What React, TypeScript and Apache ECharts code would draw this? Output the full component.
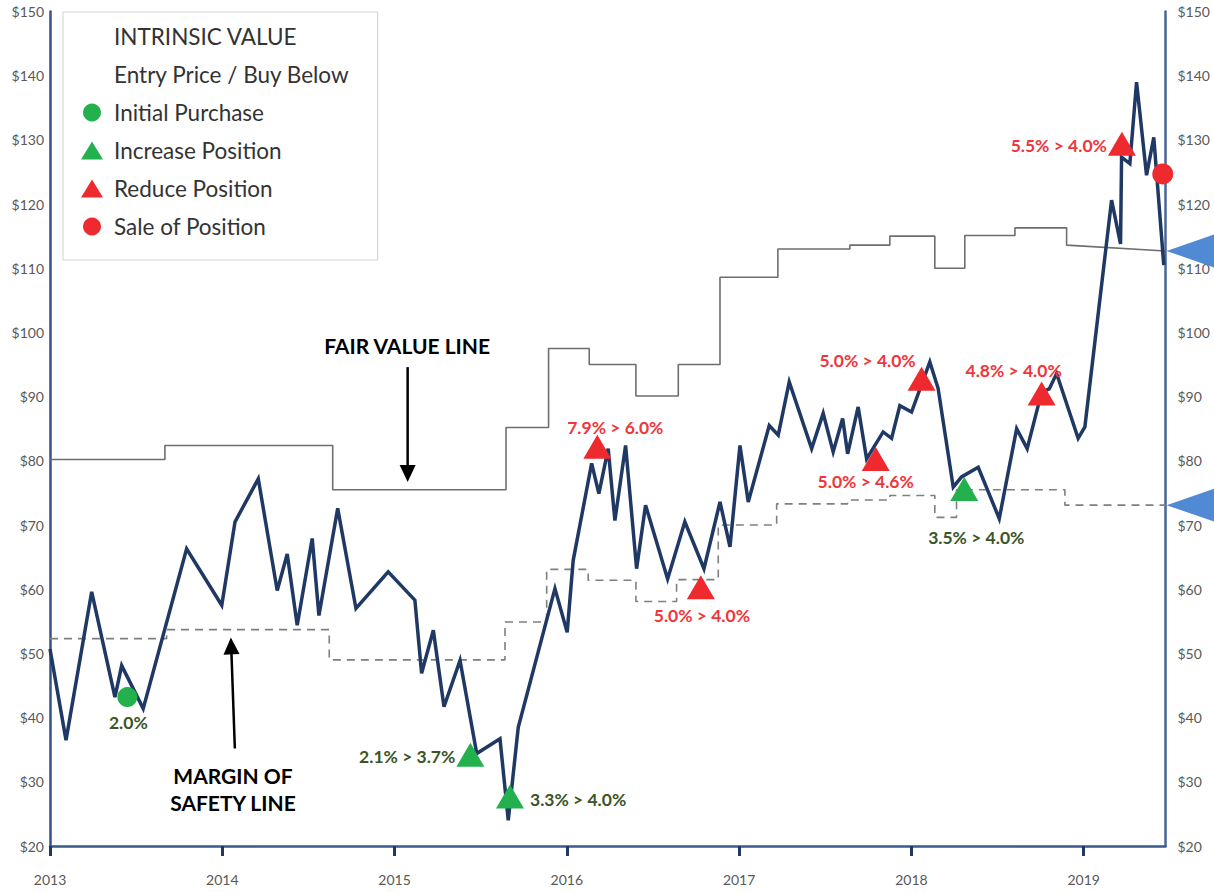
import React, { useEffect, useRef } from 'react';
import * as echarts from 'echarts';

// ---------- axes ----------
const yearTicks = [2013, 2014, 2015, 2016, 2017, 2018, 2019];
const xMin = 2013;
const xMax = 2019.475;
const yMin = 20;
const yMax = 150;
const yStep = 10;

// ---------- share price (decimal year, $) ----------
const priceDates = [
  2013.0, 2013.093, 2013.242, 2013.377, 2013.416, 2013.541, 2013.793, 2013.997, 2014.074, 2014.209,
  2014.319, 2014.377, 2014.435, 2014.522, 2014.561, 2014.67, 2014.776, 2014.963, 2015.118, 2015.157,
  2015.225, 2015.287, 2015.38, 2015.477, 2015.612, 2015.66, 2015.718, 2015.931, 2016.002, 2016.037,
  2016.144, 2016.186, 2016.24, 2016.279, 2016.341, 2016.405, 2016.457, 2016.585, 2016.685, 2016.796,
  2016.889, 2016.947, 2017.005, 2017.053, 2017.175, 2017.227, 2017.291, 2017.421, 2017.488, 2017.546,
  2017.601, 2017.63, 2017.691, 2017.74, 2017.836, 2017.885, 2017.933, 2018.001, 2018.107, 2018.155,
  2018.243, 2018.291, 2018.388, 2018.51, 2018.611, 2018.672, 2018.756, 2018.8, 2018.843, 2018.968,
  2019.007, 2019.162, 2019.214, 2019.22, 2019.268, 2019.307, 2019.365, 2019.407, 2019.465,
];
const priceValues = [
  50.7, 36.5, 59.6, 43.2, 48.1, 41.4, 66.3, 57.5, 70.5, 77.2,
  59.8, 65.5, 54.4, 67.9, 55.9, 72.6, 57.0, 62.7, 58.3, 46.9,
  53.6, 41.7, 48.9, 34.4, 36.7, 24.0, 38.5, 60.1, 53.3, 64.5,
  79.6, 74.9, 81.9, 70.7, 82.4, 63.2, 73.1, 61.6, 70.5, 63.2,
  73.6, 66.6, 82.4, 73.6, 85.5, 84.0, 92.3, 81.9, 87.4, 81.4,
  86.6, 81.1, 88.4, 80.3, 84.5, 83.5, 88.6, 87.6, 95.4, 91.3,
  75.9, 77.5, 79.0, 71.0, 85.0, 81.9, 90.7, 91.2, 93.6, 83.5,
  85.3, 120.6, 113.8, 127.3, 126.3, 139.0, 124.5, 130.4, 110.5,
];

// ---------- intrinsic value (fair value) steps ----------
const fairDates = [2013.0, 2013.667, 2014.641, 2015.647, 2015.894, 2016.13, 2016.401, 2016.647, 2016.889, 2017.225, 2017.643, 2017.875, 2018.136, 2018.31, 2018.601, 2018.901];
const fairLevels = [80.2, 82.4, 75.5, 85.2, 97.5, 95.0, 90.1, 95.0, 108.6, 113.0, 113.6, 115.0, 110.0, 115.1, 116.3, 113.6];
const fairEndValue = 112.7;

// ---------- entry price / buy below (margin of safety) steps ----------
const marginDates = [2013.0, 2013.677, 2014.621, 2015.641, 2015.883, 2016.124, 2016.401, 2016.637, 2016.879, 2017.218, 2017.63, 2017.875, 2018.136, 2018.262, 2018.891];
const marginLevels = [52.3, 53.7, 49.0, 54.9, 63.1, 61.4, 58.1, 61.5, 70.0, 73.3, 73.9, 74.6, 71.2, 75.5, 73.1];
const marginEndValue = 73.1;

// ---------- trades ----------
const initialDates = [2013.449];
const initialValues = [43.2];
const initialLabels = ['2.0%'];

const increaseDates = [2015.44, 2015.67, 2018.307];
const increaseValues = [34.2, 27.7, 75.6];
const increaseLabels = ['2.1% > 3.7%', '3.3% > 4.0%', '3.5% > 4.0%'];

const reduceDates = [2016.177, 2016.778, 2017.793, 2018.059, 2018.756, 2019.222];
const reduceValues = [82.2, 60.3, 80.3, 92.8, 90.5, 129.4];
const reduceLabels = ['7.9% > 6.0%', '5.0% > 4.0%', '5.0% > 4.6%', '5.0% > 4.0%', '4.8% > 4.0%', '5.5% > 4.0%'];

const saleDates = [2019.459];
const saleValues = [124.7];

// ---------- style / placement (not data) ----------
const FONT = 'Lato';
const RED = '#EE2A2F';
const RED_TEXT = '#F0353B';
const GREEN = '#22B14C';
const GREEN_TEXT = '#3B5526';
const NAVY = '#1F3864';

const initialPlacement = [{ position: 'inside', offset: [1, 25] }];
const increasePlacement = [
  { position: 'left', distance: 1, offset: [0, 2] },
  { position: 'right', distance: 6, offset: [0, 3] },
  { position: 'inside', offset: [12, 48] },
];
const reducePlacement = [
  { position: 'inside', offset: [18, -19] },
  { position: 'inside', offset: [1, 28] },
  { position: 'inside', offset: [-10, 23] },
  { position: 'inside', offset: [-54, -18] },
  { position: 'inside', offset: [-28, -23] },
  { position: 'left', distance: 1, offset: [0, 2] },
];

function stepData(dates: number[], levels: number[], endValue: number) {
  const out: number[][] = [];
  for (let i = 0; i < dates.length; i++) {
    const last = i === dates.length - 1;
    const next = last ? xMax : dates[i + 1];
    out.push([dates[i], levels[i]]);
    out.push([next, last ? endValue : levels[i]]);
  }
  return out;
}

function eventData(dates: number[], values: number[], labels: string[] | null, placement: any[] | null, color: string) {
  return dates.map((d, i) => {
    const item: any = { value: [d, values[i]] };
    if (labels && placement) {
      item.label = {
        show: true,
        formatter: labels[i],
        color,
        fontFamily: FONT,
        fontWeight: 'bold',
        fontSize: 17.5,
        ...placement[i],
      };
    }
    return item;
  });
}

export default function App() {
  const ref = useRef<HTMLDivElement>(null);

  useEffect(() => {
    document.body.style.margin = '0';
    if (!ref.current) return;
    const chart = echarts.init(ref.current, null, { renderer: 'svg' });

    const axisLabelStyle = { fontFamily: FONT, fontSize: 14, color: '#595959' };

    chart.setOption({
      animation: false,
      backgroundColor: '#ffffff',
      grid: { left: 50, right: 48.5, top: 11.5, bottom: 47, containLabel: false },
      xAxis: {
        type: 'value',
        min: xMin,
        max: xMax,
        interval: 1,
        axisLine: { show: true, onZero: false, lineStyle: { color: '#3B5A8C', width: 2.5 } },
        axisTick: { show: true, customValues: yearTicks, length: 10, lineStyle: { color: NAVY, width: 3 } },
        axisLabel: {
          customValues: yearTicks,
          formatter: (v: number) => String(Math.round(v)),
          margin: 26,
          ...axisLabelStyle,
        },
        splitLine: { show: false },
      },
      yAxis: [
        {
          type: 'value',
          min: yMin,
          max: yMax,
          interval: yStep,
          position: 'left',
          axisLine: { show: true, onZero: false, lineStyle: { color: '#34528A', width: 2.5 } },
          axisTick: { show: false },
          axisLabel: { formatter: '${value}', margin: 6, ...axisLabelStyle },
          splitLine: { show: false },
        },
        {
          type: 'value',
          min: yMin,
          max: yMax,
          interval: yStep,
          position: 'right',
          axisLine: { show: true, onZero: false, lineStyle: { color: '#4A6699', width: 2.5 } },
          axisTick: { show: false },
          axisLabel: { formatter: '${value}', margin: 12, ...axisLabelStyle },
          splitLine: { show: false },
        },
      ],
      legend: {
        left: 63,
        top: 12,
        orient: 'vertical',
        padding: [13, 28, 22, 18],
        itemGap: 15,
        itemWidth: 22,
        itemHeight: 18,
        backgroundColor: '#ffffff',
        borderColor: '#cfcfcf',
        borderWidth: 1,
        selectedMode: false,
        textStyle: { fontFamily: FONT, fontSize: 22.5, lineHeight: 22, color: '#333333', padding: [0, 0, 0, 6] },
        data: [
          { name: 'INTRINSIC VALUE', icon: 'none' },
          { name: 'Entry Price / Buy Below', icon: 'none' },
          { name: 'Initial Purchase', icon: 'circle' },
          { name: 'Increase Position', icon: 'triangle' },
          { name: 'Reduce Position', icon: 'triangle' },
          { name: 'Sale of Position', icon: 'circle' },
        ],
      },
      series: [
        {
          name: 'INTRINSIC VALUE',
          type: 'line',
          data: stepData(fairDates, fairLevels, fairEndValue),
          showSymbol: false,
          symbol: 'none',
          lineStyle: { color: '#6E6E6E', width: 1.6 },
          itemStyle: { color: '#6E6E6E' },
          silent: true,
          z: 2,
        },
        {
          name: 'Entry Price / Buy Below',
          type: 'line',
          data: stepData(marginDates, marginLevels, marginEndValue),
          showSymbol: false,
          symbol: 'none',
          lineStyle: { color: '#7F7F7F', width: 1.6, type: [8, 6] },
          itemStyle: { color: '#7F7F7F' },
          silent: true,
          z: 2,
        },
        {
          name: 'Share Price',
          type: 'line',
          data: priceDates.map((d, i) => [d, priceValues[i]]),
          showSymbol: false,
          symbol: 'none',
          lineStyle: { color: NAVY, width: 3.5, join: 'miter', miterLimit: 4 },
          itemStyle: { color: NAVY },
          silent: true,
          z: 3,
        },
        {
          name: 'Initial Purchase',
          type: 'scatter',
          symbol: 'circle',
          symbolSize: 20,
          itemStyle: { color: GREEN, opacity: 1 },
          data: eventData(initialDates, initialValues, initialLabels, initialPlacement, GREEN_TEXT),
          silent: true,
          z: 5,
        },
        {
          name: 'Increase Position',
          type: 'scatter',
          symbol: 'triangle',
          symbolSize: [28, 24],
          itemStyle: { color: GREEN, opacity: 1 },
          data: eventData(increaseDates, increaseValues, increaseLabels, increasePlacement, GREEN_TEXT),
          silent: true,
          z: 5,
        },
        {
          name: 'Reduce Position',
          type: 'scatter',
          symbol: 'triangle',
          symbolSize: [28, 24],
          itemStyle: { color: RED, opacity: 1 },
          data: eventData(reduceDates, reduceValues, reduceLabels, reducePlacement, RED_TEXT),
          silent: true,
          z: 5,
        },
        {
          name: 'Sale of Position',
          type: 'scatter',
          symbol: 'circle',
          symbolSize: 21,
          itemStyle: { color: RED, opacity: 1 },
          data: eventData(saleDates, saleValues, null, null, RED_TEXT),
          silent: true,
          z: 5,
        },
      ],
    });

    // annotations placed in data space and converted through the chart's scales
    const toPx = (x: number, y: number) => chart.convertToPixel({ xAxisIndex: 0, yAxisIndex: 0 }, [x, y]) as number[];

    const blackArrow = (from: number[], to: number[]) => {
      const a = toPx(from[0], from[1]);
      const b = toPx(to[0], to[1]);
      const dx = b[0] - a[0];
      const dy = b[1] - a[1];
      const len = Math.sqrt(dx * dx + dy * dy);
      const ux = dx / len;
      const uy = dy / len;
      const headLen = 17;
      const headHalf = 8;
      const bx = b[0] - ux * headLen;
      const by = b[1] - uy * headLen;
      return [
        { type: 'line', shape: { x1: a[0], y1: a[1], x2: bx + ux * 2, y2: by + uy * 2 }, style: { stroke: '#000', lineWidth: 2.5 }, z: 20 },
        {
          type: 'polygon',
          shape: { points: [[b[0], b[1]], [bx - uy * headHalf, by + ux * headHalf], [bx + uy * headHalf, by - ux * headHalf]] },
          style: { fill: '#000' },
          z: 20,
        },
      ];
    };

    const blueArrow = (value: number) => {
      const t = toPx(xMax, value);
      const L = 50;
      const H = 17;
      const h = 8;
      return {
        type: 'polygon',
        shape: {
          points: [
            [t[0] + 1, t[1]],
            [t[0] + L, t[1] - H],
            [t[0] + L, t[1] - h],
            [t[0] + L + 40, t[1] - h],
            [t[0] + L + 40, t[1] + h],
            [t[0] + L, t[1] + h],
            [t[0] + L, t[1] + H],
          ],
        },
        style: { fill: '#5089D4' },
        z: 30,
      };
    };

    const fvText = toPx(2015.073, 98.0);
    const mosText = toPx(2014.062, 28.9);

    chart.setOption({
      graphic: [
        {
          type: 'text',
          x: fvText[0],
          y: fvText[1],
          style: { text: 'FAIR VALUE LINE', font: `bold 21px ${FONT}`, fill: '#000', align: 'center', verticalAlign: 'middle' },
          z: 20,
        },
        {
          type: 'text',
          x: mosText[0],
          y: mosText[1],
          style: {
            text: 'MARGIN OF\nSAFETY LINE',
            font: `bold 21px ${FONT}`,
            lineHeight: 27,
            fill: '#000',
            align: 'center',
            verticalAlign: 'middle',
          },
          z: 20,
        },
        ...blackArrow([2015.076, 94.6], [2015.076, 76.7]),
        ...blackArrow([2014.073, 35.2], [2014.05, 52.5]),
        blueArrow(fairEndValue),
        blueArrow(marginEndValue),
      ],
    });

    return () => chart.dispose();
  }, []);

  return <div ref={ref} style={{ width: 1214, height: 893 }} />;
}
